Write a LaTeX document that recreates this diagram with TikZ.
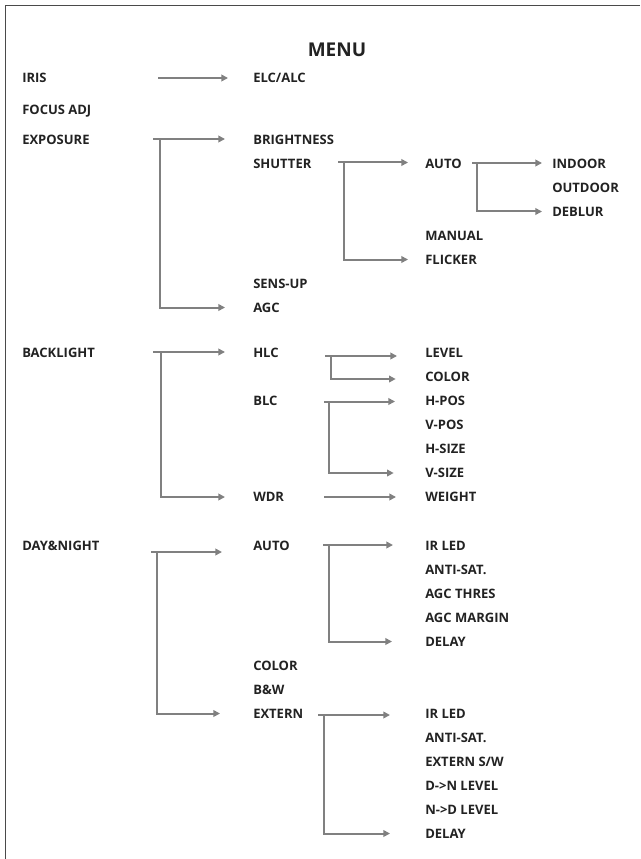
\documentclass[tikz,border=0pt]{standalone}
\usepackage{fontspec}
\setmainfont{Open Sans}
\usetikzlibrary{arrows.meta}
\definecolor{txt}{HTML}{222222}
\definecolor{arrc}{HTML}{808080}
\definecolor{framec}{HTML}{4a4a4a}
\begin{document}
\begin{tikzpicture}[x=0.75pt,y=-0.75pt,
  lbl/.style={anchor=west,inner sep=0pt,text height=6.96pt,text depth=0pt,
    font=\fontsize{9.75pt}{12pt}\selectfont\bfseries,text=txt},
  ttl/.style={inner sep=0pt,text height=10.17pt,text depth=0pt,
    font=\fontsize{14.25pt}{16pt}\selectfont\bfseries,text=txt},
  ln/.style={draw=arrc,line width=1.5pt},
  arr/.style={ln,-{Triangle[length=5pt,width=5pt]}}]
\useasboundingbox (0,0) rectangle (640,859);
\draw[framec,line width=1.3pt] (640,5.5) -- (5.5,5.5) -- (5.5,859);

\node[ttl] (menu) at (337,50) {MENU};

% column 1
\node[lbl] (iris) at (22,78) {IRIS};
\node[lbl] (focus) at (22,110) {FOCUS ADJ};
\node[lbl] (exposure) at (22,139.5) {EXPOSURE};
\node[lbl] (backlight) at (22,353) {BACKLIGHT};
\node[lbl] (daynight) at (22,546) {DAY\&NIGHT};

% column 2
\node[lbl] (elc) at (253,78) {ELC/ALC};
\node[lbl] (bright) at (253,139.5) {BRIGHTNESS};
\node[lbl] (shutter) at (253,163.5) {SHUTTER};
\node[lbl] (sensup) at (253,283.5) {SENS-UP};
\node[lbl] (agc) at (253,307.5) {AGC};
\node[lbl] (hlc) at (253,353) {HLC};
\node[lbl] (blc) at (253,401) {BLC};
\node[lbl] (wdr) at (253,497) {WDR};
\node[lbl] (dauto) at (253,545.5) {AUTO};
\node[lbl] (dcolor) at (253,665.5) {COLOR};
\node[lbl] (bw) at (253,689.5) {B\&W};
\node[lbl] (extern) at (253,713.5) {EXTERN};

% column 3
\node[lbl] (sauto) at (425,163.5) {AUTO};
\node[lbl] (manual) at (425,235.5) {MANUAL};
\node[lbl] (flicker) at (425,259.5) {FLICKER};
\node[lbl] (level) at (425,353) {LEVEL};
\node[lbl] (hcolor) at (425,377) {COLOR};
\node[lbl] (hpos) at (425,401) {H-POS};
\node[lbl] (vpos) at (425,425) {V-POS};
\node[lbl] (hsize) at (425,449) {H-SIZE};
\node[lbl] (vsize) at (425,473) {V-SIZE};
\node[lbl] (weight) at (425,497) {WEIGHT};
\node[lbl] (irled) at (425,545.5) {IR LED};
\node[lbl] (antisat) at (425,569.5) {ANTI-SAT.};
\node[lbl] (agcthres) at (425,593.5) {AGC THRES};
\node[lbl] (agcmargin) at (425,617.5) {AGC MARGIN};
\node[lbl] (delay) at (425,641.5) {DELAY};
\node[lbl] (eirled) at (425,713.5) {IR LED};
\node[lbl] (eantisat) at (425,737.5) {ANTI-SAT.};
\node[lbl] (externsw) at (425,761.5) {EXTERN S/W};
\node[lbl] (dn) at (425,785.5) {D->N LEVEL};
\node[lbl] (nd) at (425,809.5) {N->D LEVEL};
\node[lbl] (edelay) at (425,833.5) {DELAY};

% column 4
\node[lbl] (indoor) at (552,163.5) {INDOOR};
\node[lbl] (outdoor) at (552,187.5) {OUTDOOR};
\node[lbl] (deblur) at (552,211.5) {DEBLUR};

% IRIS
\coordinate (sI) at (158,78);
\draw[arr,shorten >=18.75pt] (sI) -- (sI -| elc.west);

% EXPOSURE
\coordinate (sE) at (153,139);
\coordinate (jE) at (160,139);
\draw[arr,shorten >=21pt] (sE) -- (sE -| bright.west);
\draw[arr,shorten >=21pt] (jE) |- (agc.west);

% SHUTTER
\coordinate (sS) at (338,162.5);
\coordinate (jS) at (344,162.5);
\draw[arr,shorten >=12.75pt] (sS) -- (sS -| sauto.west);
\draw[arr,shorten >=12.75pt] (jS) |- (flicker.west);

% AUTO (shutter)
\coordinate (sA) at (472,163);
\coordinate (jA) at (477,163);
\draw[arr,shorten >=7.5pt] (sA) -- (sA -| indoor.west);
\draw[arr,shorten >=7.5pt] (jA) |- (deblur.west);

% BACKLIGHT
\coordinate (sB) at (153,352);
\coordinate (jB) at (161,352);
\draw[arr,shorten >=21pt] (sB) -- (sB -| hlc.west);
\draw[arr,shorten >=21pt] (jB) |- (wdr.west);

% HLC
\coordinate (sH) at (325,356);
\coordinate (jH) at (331,356);
\draw[arr,shorten >=21pt] (sH) -- (sH -| level.west);
\draw[arr,shorten >=22pt] (jH) |- ([yshift=-1.5pt]hcolor.west);

% BLC
\coordinate (sL) at (324,401.5);
\coordinate (jL) at (329,401.5);
\draw[arr,shorten >=22.5pt] (sL) -- (sL -| hpos.west);
\draw[arr,shorten >=23.5pt] (jL) |- (vsize.west);

% WDR
\coordinate (sW) at (324,497);
\draw[arr,shorten >=21.75pt] (sW) -- (sW -| weight.west);

% DAY&NIGHT
\coordinate (sD) at (151,552);
\coordinate (jD) at (157,552);
\draw[arr,shorten >=23.25pt] (sD) -- (sD -| dauto.west);
\draw[arr,shorten >=24.75pt] (jD) |- (extern.west);

% AUTO (day&night)
\coordinate (sU) at (323,545);
\coordinate (jU) at (329,545);
\draw[arr,shorten >=24pt] (sU) -- (sU -| irled.west);
\draw[arr,shorten >=24.75pt] (jU) |- (delay.west);

% EXTERN
\coordinate (sX) at (318,715);
\coordinate (jX) at (324,715);
\draw[arr,shorten >=26.25pt] (sX) -- (sX -| eirled.west);
\draw[arr,shorten >=26.25pt] (jX) |- (edelay.west);
\end{tikzpicture}
\end{document}
